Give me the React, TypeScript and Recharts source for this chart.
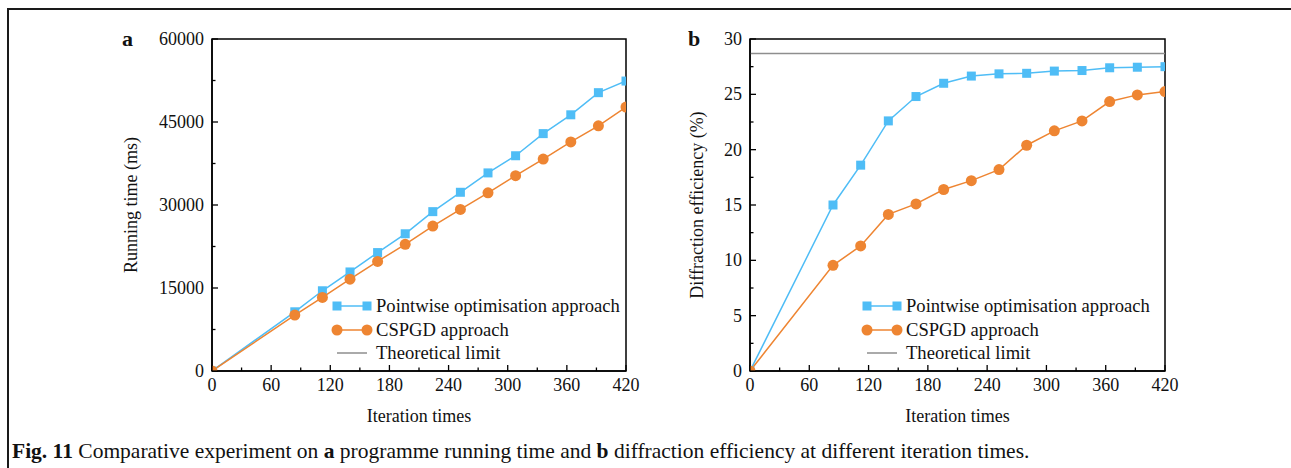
import React from 'react';
import { LineChart, Line, XAxis, YAxis, ReferenceLine, ReferenceArea } from 'recharts';

// ---- data ----
const iterations = [0, 84, 112, 140, 168, 196, 224, 252, 280, 308, 336, 364, 392, 420];
const runPointwise = [0, 10700, 14500, 17900, 21400, 24800, 28800, 32300, 35800, 38900, 42900, 46300, 50300, 52400];
const runCspgd = [0, 10100, 13300, 16600, 19800, 22900, 26200, 29200, 32200, 35300, 38300, 41400, 44300, 47700];
const effPointwise = [0, 15.0, 18.6, 22.6, 24.8, 26.0, 26.65, 26.85, 26.9, 27.1, 27.15, 27.4, 27.45, 27.5];
const effCspgd = [0, 9.55, 11.3, 14.15, 15.1, 16.4, 17.2, 18.2, 20.4, 21.7, 22.6, 24.35, 24.95, 25.25];
const theoreticalLimitEff = 28.7;

const xTicks = [0, 30, 60, 90, 120, 150, 180, 210, 240, 270, 300, 330, 360, 390, 420];
const xMajorStep = 60;
const runTicks = [0, 7500, 15000, 22500, 30000, 37500, 45000, 52500, 60000];
const runMajorStep = 15000;
const effTicks = [0, 2.5, 5, 7.5, 10, 12.5, 15, 17.5, 20, 22.5, 25, 27.5, 30];
const effMajorStep = 5;

const seriesNames = ['Pointwise optimisation approach', 'CSPGD approach', 'Theoretical limit'];
const xLabel = 'Iteration times';
const runLabel = 'Running time (ms)';
const effLabel = 'Diffraction efficiency (%)';

const BLUE = '#4FBDF6';
const ORANGE = '#EE8532';
const GRAY = '#8E8E8E';
const FONT = '"Liberation Serif", "Times New Roman", serif';

const runData = iterations.map((it, i) => ({ it, p: runPointwise[i], c: runCspgd[i] }));
const effData = iterations.map((it, i) => ({ it, p: effPointwise[i], c: effCspgd[i] }));

const makeXTick = (step: number) => (props: any) => {
  const { x, y, payload } = props;
  const v = payload.value;
  const major = Math.abs(v % step) < 1e-9;
  return (
    <g>
      <line x1={x} x2={x} y1={y} y2={y - (major ? 6 : 3.5)} stroke="#000" strokeWidth={1.3} />
      {major && (
        <text x={x} y={y + 20} textAnchor="middle" fontSize={18} fill="#111" fontFamily={FONT}>
          {v}
        </text>
      )}
    </g>
  );
};

const makeYTick = (step: number) => (props: any) => {
  const { x, y, payload } = props;
  const v = payload.value;
  const major = Math.abs(v % step) < 1e-9;
  return (
    <g>
      <line x1={x} x2={x + (major ? 6 : 3.5)} y1={y} y2={y} stroke="#000" strokeWidth={1.3} />
      {major && (
        <text x={x - 8} y={y + 6} textAnchor="end" fontSize={18} fill="#111" fontFamily={FONT}>
          {v}
        </text>
      )}
    </g>
  );
};

const SquareDot = (props: any) => {
  const { cx, cy, index } = props;
  if (cx == null || cy == null) return <g key={`s${index}`} />;
  return <rect key={`s${index}`} x={cx - 4.5} y={cy - 4.5} width={9} height={9} fill={BLUE} />;
};

const LegendBox = ({ left, top }: { left: number; top: number }) => (
  <svg width={300} height={80} style={{ position: 'absolute', left, top, overflow: 'visible' }}>
    <g fontFamily={FONT} fontSize={18.6} fill="#111">
      <line x1={5} x2={35} y1={10} y2={10} stroke={BLUE} strokeWidth={1.5} />
      <rect x={0.5} y={5.5} width={9} height={9} fill={BLUE} />
      <rect x={30.5} y={5.5} width={9} height={9} fill={BLUE} />
      <text x={44} y={16}>{seriesNames[0]}</text>
      <line x1={5} x2={35} y1={34} y2={34} stroke={ORANGE} strokeWidth={1.5} />
      <circle cx={5} cy={34} r={5.5} fill={ORANGE} />
      <circle cx={35} cy={34} r={5.5} fill={ORANGE} />
      <text x={44} y={40}>{seriesNames[1]}</text>
      <line x1={5} x2={35} y1={57} y2={57} stroke={GRAY} strokeWidth={1.5} />
      <text x={44} y={63}>{seriesNames[2]}</text>
    </g>
  </svg>
);

const yLabel = (text: string, dx: number) => (props: any) => {
  const vb = props.viewBox;
  const cx = vb.x + dx;
  const cy = vb.y + vb.height / 2;
  return (
    <text x={cx} y={cy} transform={`rotate(-90 ${cx} ${cy})`} textAnchor="middle" dominantBaseline="central" fontSize={18} fill="#111" fontFamily={FONT}>
      {text}
    </text>
  );
};

const xLabelFn = (props: any) => {
  const vb = props.viewBox;
  return (
    <text x={vb.x + vb.width / 2} y={vb.y + 51} textAnchor="middle" fontSize={18} fill="#111" fontFamily={FONT}>
      {xLabel}
    </text>
  );
};

const CHART_W = 540;
const CHART_H = 410;

export default function App() {
  return (
    <div style={{ position: 'absolute', left: 0, top: 0, width: 1291, height: 468, background: '#fff', overflow: 'hidden', fontFamily: FONT }}>
      <div style={{ position: 'absolute', left: 7, top: 8, width: 1300, height: 500, borderTop: '2px solid #1a1a1a', borderLeft: '2px solid #1a1a1a' }} />

      {/* panel a */}
      <div style={{ position: 'absolute', left: 100, top: 20 }}>
        <LineChart width={CHART_W} height={CHART_H} data={runData} margin={{ top: 19, right: 14, bottom: 0, left: 0 }}>
          <XAxis dataKey="it" type="number" domain={[0, 420]} ticks={xTicks} interval={0} allowDataOverflow
            height={59} tickSize={0} tickMargin={0} tick={makeXTick(xMajorStep)} tickLine={false}
            axisLine={{ stroke: '#000', strokeWidth: 1.5 }} label={xLabelFn} />
          <YAxis type="number" domain={[0, 60000]} ticks={runTicks} interval={0} allowDataOverflow
            width={112} tickSize={0} tickMargin={0} tick={makeYTick(runMajorStep)} tickLine={false}
            axisLine={{ stroke: '#000', strokeWidth: 1.5 }} label={yLabel(runLabel, 31)} />
          <ReferenceArea x1={0} x2={420} y1={0} y2={60000} fill="none" stroke="#000" strokeWidth={1.5} fillOpacity={0} />
          <Line dataKey="p" stroke={BLUE} strokeWidth={1.5} dot={SquareDot} isAnimationActive={false} />
          <Line dataKey="c" stroke={ORANGE} strokeWidth={1.5} dot={{ r: 5.5, fill: ORANGE, stroke: ORANGE, strokeWidth: 0 }} isAnimationActive={false} />
        </LineChart>
        <LegendBox left={232} top={276} />
        <div style={{ position: 'absolute', left: 22, top: 6, fontSize: 22, fontWeight: 'bold', color: '#111' }}>a</div>
      </div>

      {/* panel b */}
      <div style={{ position: 'absolute', left: 638, top: 20 }}>
        <LineChart width={CHART_W + 1} height={CHART_H} data={effData} margin={{ top: 19, right: 14, bottom: 0, left: 0 }}>
          <XAxis dataKey="it" type="number" domain={[0, 420]} ticks={xTicks} interval={0} allowDataOverflow
            height={59} tickSize={0} tickMargin={0} tick={makeXTick(xMajorStep)} tickLine={false}
            axisLine={{ stroke: '#000', strokeWidth: 1.5 }} label={xLabelFn} />
          <YAxis type="number" domain={[0, 30]} ticks={effTicks} interval={0} allowDataOverflow
            width={112} tickSize={0} tickMargin={0} tick={makeYTick(effMajorStep)} tickLine={false}
            axisLine={{ stroke: '#000', strokeWidth: 1.5 }} label={yLabel(effLabel, 59)} />
          <ReferenceArea x1={0} x2={420} y1={0} y2={30} fill="none" stroke="#000" strokeWidth={1.5} fillOpacity={0} />
          <ReferenceLine y={theoreticalLimitEff} stroke={GRAY} strokeWidth={1.5} />
          <Line dataKey="p" stroke={BLUE} strokeWidth={1.5} dot={SquareDot} isAnimationActive={false} />
          <Line dataKey="c" stroke={ORANGE} strokeWidth={1.5} dot={{ r: 5.5, fill: ORANGE, stroke: ORANGE, strokeWidth: 0 }} isAnimationActive={false} />
        </LineChart>
        <LegendBox left={224} top={276} />
        <div style={{ position: 'absolute', left: 50, top: 6, fontSize: 22, fontWeight: 'bold', color: '#111' }}>b</div>
      </div>

      {/* caption */}
      <div style={{ position: 'absolute', left: 12, top: 439, fontSize: 21.5, color: '#111', whiteSpace: 'nowrap', lineHeight: '24px' }}>
        <b>Fig. 11</b> Comparative experiment on <b>a</b> programme running time and <b>b</b> diffraction efficiency at different iteration times.
      </div>
    </div>
  );
}
